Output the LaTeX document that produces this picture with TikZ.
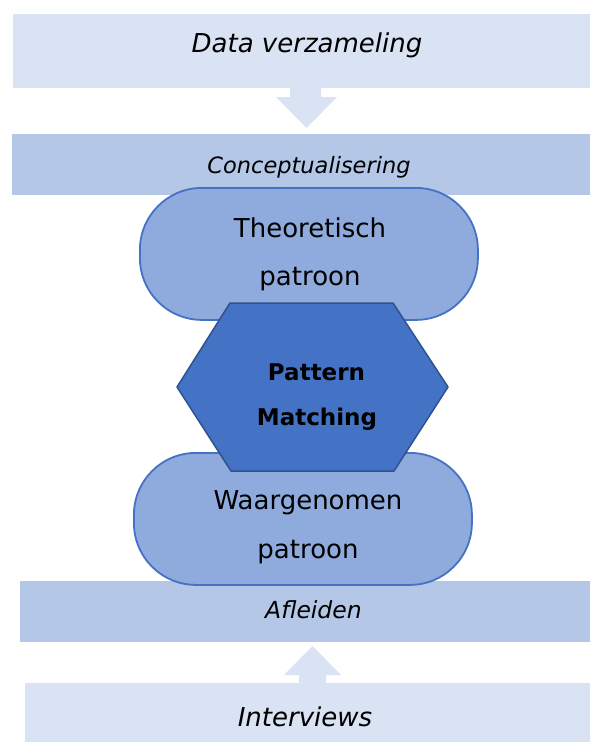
\documentclass[tikz,border=0pt]{standalone}
\usepackage{fontspec}
\setmainfont{DejaVu Sans}
\definecolor{lightb}{HTML}{DAE3F3}
\definecolor{midb}{HTML}{B4C7E7}
\definecolor{stadb}{HTML}{8FAADC}
\definecolor{acc}{HTML}{4472C4}
\definecolor{dacc}{HTML}{2F528F}
\tikzset{
  band/.style={inner sep=0pt, outer sep=0pt, anchor=north west},
  stadium/.style={draw=acc, fill=stadb, line width=1.8pt, rounded corners=62pt, inner sep=0pt, anchor=north west},
  lbl/.style={anchor=base, inner sep=0pt, text=black},
}
\begin{document}
\begin{tikzpicture}[x=1pt,y=-1pt]
\useasboundingbox (0,0) rectangle (590,742);
% bands
\node[band, fill=lightb, minimum width=577pt, minimum height=74pt] (top) at (13,14) {};
\node[band, fill=midb, minimum width=578pt, minimum height=61pt] (concept) at (12,134) {};
\node[band, fill=midb, minimum width=570pt, minimum height=61pt] (afl) at (20,581) {};
\node[band, fill=lightb, minimum width=565pt, minimum height=60pt] (intv) at (25,683) {};
% block arrows
\coordinate (a1) at (306.5,88);
\fill[lightb] (290,88) -- (321,88) -- (321,97) -- (337,97) -- (306.5,128) -- (276,97) -- (290,97) -- cycle;
\fill[lightb] (299,683) -- (326,683) -- (326,675) -- (341,675) -- (312.5,646) -- (284,675) -- (299,675) -- cycle;
% stadiums
\node[stadium, minimum width=338pt, minimum height=132pt] (theo) at (139,187) {};
\node[stadium, minimum width=338pt, minimum height=132pt] (waar) at (133,452) {};
% hexagon
\draw[fill=acc, draw=dacc, line width=1.5pt, line join=round]
  (230,303) -- (393,303) -- (448,387) -- (394,471) -- (231,471) -- (177,387) -- cycle;
% texts
\node[lbl, font=\fontsize{26}{30}\selectfont\itshape] (t1) at (307,52) {Data verzameling};
\node[lbl, font=\fontsize{22.5}{27}\selectfont\itshape] (t2) at (309,173) {Conceptualisering};
\node[lbl, font=\fontsize{26}{30}\selectfont] (t3) at (310,237) {Theoretisch};
\node[lbl, font=\fontsize{26}{30}\selectfont] (t4) at (310,285) {patroon};
\node[lbl, font=\fontsize{23}{27}\selectfont\bfseries] (t5) at (316.5,380) {Pattern};
\node[lbl, font=\fontsize{23}{27}\selectfont\bfseries] (t6) at (317,425) {Matching};
\node[lbl, font=\fontsize{26}{30}\selectfont] (t7) at (308,509) {Waargenomen};
\node[lbl, font=\fontsize{26}{30}\selectfont] (t8) at (308,558) {patroon};
\node[lbl, font=\fontsize{23.5}{27}\selectfont\itshape] (t9) at (313.5,618) {Afleiden};
\node[lbl, font=\fontsize{26}{30}\selectfont\itshape] (t10) at (305,726) {Interviews};
\end{tikzpicture}
\end{document}
